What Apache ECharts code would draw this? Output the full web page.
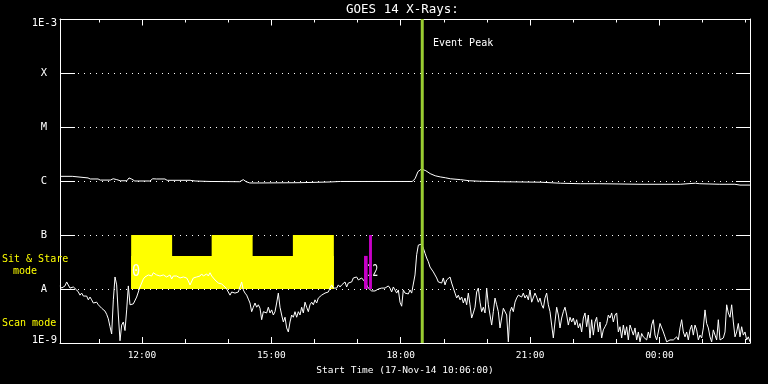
<!DOCTYPE html>
<html><head><meta charset="utf-8">
<script src="https://cdn.jsdelivr.net/npm/echarts@6/dist/echarts.min.js"></script>
<style>html,body{margin:0;padding:0;background:#000}#c{width:768px;height:384px}</style>
</head><body><div id="c"></div>
<script>
// Time in minutes since 00:00 on 17-Nov-14
const START_MIN = 606;   // 10:06
const END_MIN = 1566;    // 02:06 next day
const LOW_COUNT = 415;   // samples of the short channel, evenly spaced over the window
// GOES 14 0.5-4 A channel, in units of 1e-8 W/m^2 (A class)
const lowFluxA = [
1.14,1.04,1.04,1.14,1.35,1.24,1.04,1.04,1.09,1.09,
0.96,0.88,0.77,0.84,0.74,0.68,0.74,0.63,0.71,0.63,
0.55,0.55,0.57,0.51,0.55,0.44,0.46,0.39,0.34,0.28,
0.2,0.147,0.63,1.67,1.19,0.33,0.11,0.215,0.245,0.17,
0.41,1.14,0.51,0.55,0.53,0.57,0.71,0.74,1.09,1.29,
1.53,1.67,1.67,1.82,1.9,1.74,2.0,1.9,1.82,1.9,
1.74,1.67,1.82,1.74,1.67,1.6,1.82,1.53,1.74,1.67,
1.74,1.82,1.6,1.47,1.67,1.67,1.6,1.41,1.19,1.24,
1.6,1.74,1.67,1.6,1.74,1.9,1.74,1.82,1.9,1.74,
2.0,1.74,1.6,1.47,1.41,1.29,1.35,1.24,1.19,1.09,
1.0,0.92,0.77,0.88,0.92,0.84,
0.88,0.88,1.09,1.35,0.96,0.84,0.77,0.65,0.55,0.38,
0.46,0.55,0.46,0.51,0.44,0.27,0.38,0.41,0.36,0.46,
0.36,0.41,0.33,0.38,0.55,0.84,0.46,0.33,0.245,0.3,
0.19,0.16,0.245,0.33,0.3,0.38,0.3,0.38,0.33,0.46,
0.36,0.57,0.46,0.38,0.51,0.57,0.51,0.63,0.55,0.68,
0.63,0.77,0.71,0.84,0.81,0.88,1.04,1.19,1.04,1.09,
1.04,1.19,1.09,1.19,1.29,1.35,1.09,1.29,1.19,1.35,
1.6,1.47,1.67,1.47,1.35,1.6,1.47,1.35,1.19,1.04,
0.96,0.92,1.0,0.92,0.96,1.0,0.96,1.04,1.0,1.04,
1.0,1.14,1.04,0.88,1.09,0.96,0.84,0.96,0.57,0.48,
0.96,0.84,0.88,0.81,0.96,0.84,0.88,1.82,4.3,6.5,
6.8,6.8,
5.7,4.6,3.75,3.2,2.55,2.45,2.07,1.82,1.6,1.35,
1.47,1.29,1.6,1.19,1.47,1.35,1.67,1.29,1.04,0.84,
0.68,0.77,0.63,0.71,0.55,0.68,0.51,0.84,0.51,0.29,
0.36,0.46,0.88,1.04,0.57,0.38,0.46,0.36,1.04,0.51,
0.33,0.215,0.38,0.68,0.51,0.38,0.19,0.29,0.44,0.46,
0.33,0.105,0.38,0.46,0.38,0.57,0.68,0.77,0.81,0.71,
0.84,0.68,0.77,0.63,0.96,0.57,0.55,0.84,0.71,0.57,
0.68,0.51,0.44,0.68,0.84,0.51,0.38,0.215,0.124,0.245,
0.46,0.33,0.19,0.29,0.38,0.46,0.33,0.215,0.3,0.245,
0.29,0.215,0.27,0.19,0.23,0.16,0.29,
0.36,0.2,0.33,0.124,0.27,0.14,0.245,0.3,0.16,0.245,
0.124,0.175,0.2,0.23,0.33,0.29,0.36,0.245,0.33,0.36,
0.16,0.2,0.124,0.215,0.14,0.2,0.114,0.215,0.175,0.14,
0.19,0.114,0.16,0.105,0.15,0.13,0.14,0.114,0.16,0.124,
0.215,0.27,0.14,0.114,0.16,0.23,0.245,0.16,0.13,0.105,
0.105,0.114,0.105,0.114,0.124,0.13,0.114,0.19,0.27,0.16,
0.13,0.16,0.114,0.175,0.215,0.14,0.215,0.175,0.114,0.14,
0.124,0.19,0.41,0.23,0.19,0.13,0.105,0.175,0.14,0.114,
0.27,0.114,0.105,0.124,0.16,0.51,0.36,0.3,0.51,0.245,
0.13,0.16,0.23,0.13,0.2,0.14,0.16,0.114,0.13,0.105
];
// GOES 14 1-8 A channel, in units of 1e-6 W/m^2 (C class)
const hiTimes = [606,623,625,645,648,659,662,676,680,682,685,690,699,702,706,710,731,735,740,752,755,787,794,815,856,861,865,870,884,940,982,996,1096,1100,1104,1109,1115,1121,1128,1135,1142,1149,1163,1176,1190,1218,1246,1274,1302,1330,1357,1413,1469,1490,1496,1524,1545,1552,1566];
const hiFluxC = [1.22,1.22,1.14,1.14,1.09,1.09,1.04,1.04,1.10,1.19,1.06,1.01,1.01,1.14,1.08,1.0,1.0,1.10,1.09,1.09,1.03,1.03,1.0,0.98,0.97,1.06,0.97,0.92,0.92,0.93,0.96,0.98,0.98,1.10,1.49,1.67,1.55,1.37,1.25,1.19,1.15,1.10,1.06,1.01,0.99,0.97,0.96,0.95,0.91,0.89,0.89,0.87,0.87,0.91,0.89,0.87,0.87,0.84,0.84];

const yTickLabels = ['1E-9', 'A', 'B', 'C', 'M', 'X', '1E-3'];
const majorTimes = [720, 900, 1080, 1260, 1440];
const majorLabels = ['12:00', '15:00', '18:00', '21:00', '00:00'];
const minorTimes = [660, 780, 840, 960, 1020, 1140, 1200, 1320, 1380, 1500, 1560];

// Sit & Stare mode blocks: [start, end] in minutes; levels in W/m^2
const LEVEL_A = 1e-8, LEVEL_B = 1e-7, NOTCH_LEVEL = 4.1e-8;
const sitStareSpan = [705, 987];
const sitStareFull = [[705, 762], [817, 874], [930, 987]];
// magenta markers: [start, end, top level]
const magentaBars = [[1029, 1034, 4.1e-8], [1036, 1040, 1e-7]];
const eventPeak = 1110;

const FONT = 'DejaVu Sans Mono';
const lowData = lowFluxA.map((v, i) => [START_MIN + i * (END_MIN - START_MIN) / (LOW_COUNT - 1), v * 1e-8]);
const hiData = hiTimes.map((t, i) => [t, hiFluxC[i] * 1e-6]);
const yellowRects = [[sitStareSpan[0], sitStareSpan[1], LEVEL_A, NOTCH_LEVEL]]
  .concat(sitStareFull.map(s => [s[0], s[1], LEVEL_A, LEVEL_B]));
const magentaRects = magentaBars.map(b => [b[0], b[1], LEVEL_A, b[2]]);

function rectItem(params, api) {
  const a = api.coord([api.value(0), api.value(3)]);
  const b = api.coord([api.value(1), api.value(2)]);
  return { type: 'rect', shape: { x: a[0], y: a[1], width: b[0] - a[0], height: b[1] - a[1] },
           style: { fill: api.visual('color') } };
}

const white = '#ffffff';
function xAx(pos, ticks, len, showLine, extra) {
  return Object.assign({
    type: 'value', min: START_MIN, max: END_MIN, position: pos, gridIndex: 0,
    axisLine: { show: showLine, lineStyle: { color: white, width: 1 } },
    axisTick: { show: true, inside: true, length: len, customValues: ticks, lineStyle: { color: white, width: 1 } },
    axisLabel: { show: false }, splitLine: { show: false }
  }, extra || {});
}
function yAx(pos, tickLen, labels) {
  const base = { color: white, fontFamily: FONT, fontSize: 10.5 };
  return {
    type: 'log', logBase: 10, min: 1e-9, max: 1e-3, splitNumber: 6, position: pos,
    axisLine: { show: true, lineStyle: { color: white, width: 1 } },
    axisTick: { show: true, inside: true, length: tickLen, lineStyle: { color: white, width: 1 } },
    axisLabel: labels ? {
      show: true, margin: 3, showMinLabel: true, showMaxLabel: true,
      formatter: v => {
        const e = Math.round(Math.log10(v));
        const s = yTickLabels[e + 9];
        if (e === -3) return '{t|' + s + '}';
        if (e === -9) return '{b|' + s + '}';
        return '{l|' + s + '}';
      },
      rich: {
        t: Object.assign({ padding: [8, 0, 0, 0] }, base),
        b: Object.assign({ padding: [0, 0, 6, 0] }, base),
        l: Object.assign({ padding: [0, 10, 0, 0] }, base)
      }
    } : { show: false },
    splitLine: labels ? { show: true, lineStyle: { color: white, width: 1, type: [1, 5] } } : { show: false }
  };
}

const chart = echarts.init(document.getElementById('c'), null, { renderer: 'canvas' });
chart.setOption({
  backgroundColor: '#000000',
  animation: false,
  textStyle: { fontFamily: FONT },
  title: { text: 'GOES 14 X-Rays:', left: 346, top: 3, padding: 0,
           textStyle: { color: white, fontFamily: FONT, fontSize: 12.5, fontWeight: 'normal' } },
  grid: { left: 60, top: 19, right: 18, bottom: 41, containLabel: false, outerBoundsMode: 'none' },
  xAxis: [
    xAx('bottom', majorTimes, 6, true, {
      axisLabel: { show: true, customValues: majorTimes, margin: 8, color: white, fontFamily: FONT, fontSize: 9.5,
                   formatter: v => majorLabels[majorTimes.indexOf(v)] },
      name: 'Start Time (17-Nov-14 10:06:00)', nameLocation: 'middle', nameGap: 19,
      nameTextStyle: { color: white, fontFamily: FONT, fontSize: 9.5 }
    }),
    xAx('bottom', minorTimes, 4, false),
    xAx('top', majorTimes, 6.5, true),
    xAx('top', minorTimes, 3.5, false)
  ],
  yAxis: [yAx('left', 15, true), yAx('right', 14, false)],
  series: [
    { type: 'custom', name: 'Sit & Stare', renderItem: rectItem, data: yellowRects,
      encode: { x: [0, 1], y: [2, 3] }, itemStyle: { color: '#ffff00' }, z: 2, clip: true, silent: true },
    { type: 'custom', name: 'markers', renderItem: rectItem, data: magentaRects,
      encode: { x: [0, 1], y: [2, 3] }, itemStyle: { color: '#c800c8' }, z: 4, clip: true, silent: true },
    { type: 'line', name: '0.5-4 A', data: lowData, showSymbol: false, symbol: 'none', clip: true, z: 3,
      lineStyle: { color: white, width: 1 }, itemStyle: { color: white } },
    { type: 'line', name: '1-8 A', data: hiData, showSymbol: false, symbol: 'none', clip: true, z: 3,
      lineStyle: { color: white, width: 1 }, itemStyle: { color: white } },
    { type: 'line', name: 'Event Peak', data: [[eventPeak, 1e-9], [eventPeak, 1e-3]], showSymbol: false,
      symbol: 'none', z: 5, lineStyle: { color: '#9acd32', width: 3 }, itemStyle: { color: '#9acd32' } }
  ],
  graphic: [
    { type: 'text', x: 433, y: 43, z: 10, style: { text: 'Event Peak', fill: white, font: '10px "DejaVu Sans Mono"', verticalAlign: 'middle' } },
    { type: 'text', x: 2, y: 259, z: 10, style: { text: 'Sit & Stare', fill: '#ffff00', font: '10px "DejaVu Sans Mono"', verticalAlign: 'middle' } },
    { type: 'text', x: 13, y: 271, z: 10, style: { text: 'mode', fill: '#ffff00', font: '10px "DejaVu Sans Mono"', verticalAlign: 'middle' } },
    { type: 'text', x: 2, y: 323.5, z: 10, style: { text: 'Scan mode', fill: '#ffff00', font: '10px "DejaVu Sans Mono"', verticalAlign: 'middle' } },
    { type: 'text', x: 136, y: 272.5, z: 10, scaleX: 0.9, style: { text: '0', fill: white, font: '15px "DejaVu Sans Mono"', align: 'center', verticalAlign: 'middle' } },
    { type: 'text', x: 372.5, y: 272.5, z: 1, scaleX: 0.62, style: { text: '12', fill: white, font: '15px "DejaVu Sans Mono"', align: 'center', verticalAlign: 'middle' } }
  ]
});
</script></body></html>
